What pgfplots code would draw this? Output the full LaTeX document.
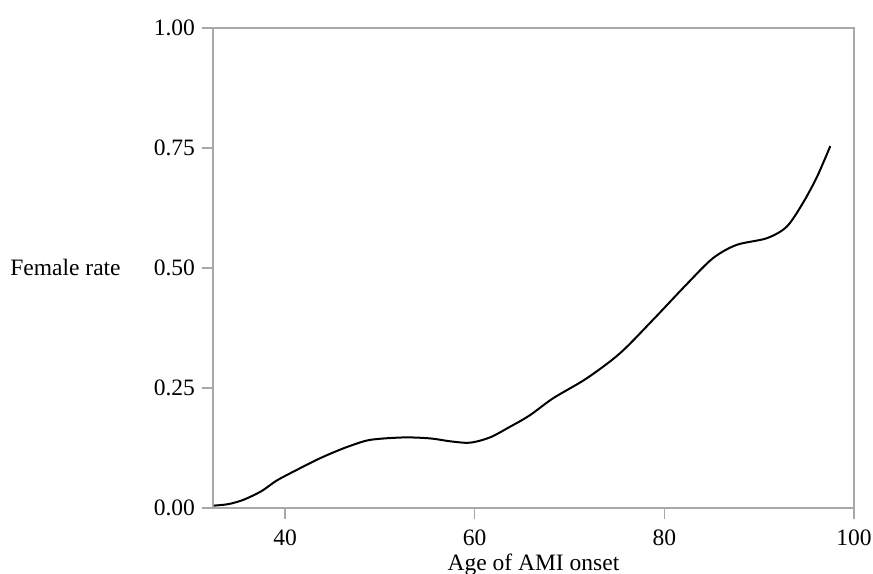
\documentclass[border=0pt]{standalone}
\usepackage{fontspec}
\setmainfont{Liberation Serif}
\usepackage{pgfplots}
\pgfplotsset{compat=1.18}
\definecolor{axgray}{HTML}{A8A8A8}

\begin{document}
\begin{tikzpicture}
\path[use as bounding box] (-106.5bp,-33bp) rectangle (330bp,254bp);
\begin{axis}[
  at={(0,0)}, anchor=south west,
  scale only axis, width=320.5bp, height=240bp,
  xmin=32.4, xmax=100, ymin=0, ymax=1,
  xtick={40,60,80,100}, ytick={0,0.25,0.5,0.75,1},
  font=\fontsize{11.75bp}{14bp}\selectfont,
  /pgf/number format/assume math mode=true,
  yticklabel style={/pgf/number format/.cd, fixed, fixed zerofill, precision=2},
  xticklabel style={anchor=base, inner sep=0pt, yshift=-13bp},
  axis line style={axgray, line width=0.75bp},
  tick style={axgray, line width=0.75bp},
  tick align=outside, tick pos=left, major tick length=5.5bp,
  every axis x label/.style={at={(axis description cs:0.5,0)}, anchor=base, inner sep=0pt, yshift=-31.3bp},
  every axis y label/.style={at={(axis description cs:0,0)}, anchor=base west, inner sep=0pt, xshift=-101.5bp, yshift=116bp},
  xlabel={Age of AMI onset},
  ylabel={Female rate},
]
\addplot[black, line width=1bp, smooth, tension=0.5] coordinates {
  (32.5,0.005) (34.0,0.008) (35.6,0.017) (37.5,0.035) (39.1,0.057)
  (41.0,0.077) (43.3,0.100) (45.0,0.115) (46.8,0.129) (49.0,0.142)
  (52.5,0.147) (55.3,0.145) (57.4,0.139) (59.5,0.136) (61.6,0.147)
  (63.7,0.169) (65.8,0.193) (68.3,0.229) (71.8,0.270) (75.3,0.322)
  (78.8,0.392) (82.3,0.465) (85.1,0.520) (87.6,0.548) (90.8,0.562)
  (92.9,0.586) (94.6,0.635) (96.1,0.690) (97.5,0.754)
};
\end{axis}
\end{tikzpicture}
\end{document}
